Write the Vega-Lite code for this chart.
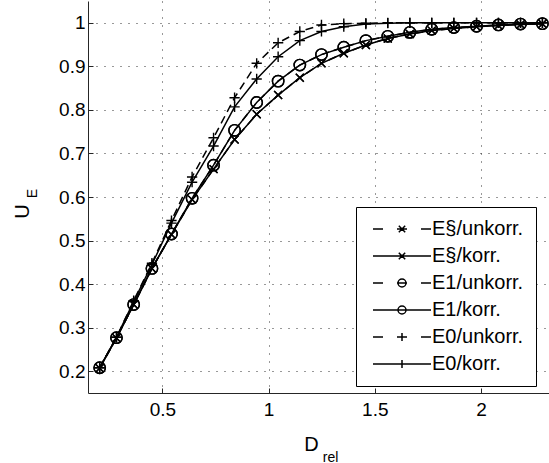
{
"$schema": "https://vega.github.io/schema/vega-lite/v6.json",
"width": 461, "height": 392,
"autosize": "none",
"padding": {"left": 88, "top": 1, "right": 0, "bottom": 70},
"background": "white",
"config": {"font": "Liberation Sans", "view": {"stroke": null},
  "axis": {"domainColor": "#262626", "tickColor": "#262626", "labelColor": "black", "titleColor": "black", "labelFont": "Liberation Sans", "titleFont": "Liberation Sans", "titleFontWeight": "normal", "labelFontSize": 19, "titleFontSize": 20}},
"datasets": {"d": [
{"s":"E§/unkorr.","k":"u","x":0.205,"y":0.207},{"s":"E§/unkorr.","k":"u","x":0.284,"y":0.276},{"s":"E§/unkorr.","k":"u","x":0.365,"y":0.353},{"s":"E§/unkorr.","k":"u","x":0.451,"y":0.436},{"s":"E§/unkorr.","k":"u","x":0.543,"y":0.514},{"s":"E§/unkorr.","k":"u","x":0.640,"y":0.594},{"s":"E§/unkorr.","k":"u","x":0.741,"y":0.664},{"s":"E§/unkorr.","k":"u","x":0.840,"y":0.732},{"s":"E§/unkorr.","k":"u","x":0.944,"y":0.790},{"s":"E§/unkorr.","k":"u","x":1.045,"y":0.834},{"s":"E§/unkorr.","k":"u","x":1.147,"y":0.874},{"s":"E§/unkorr.","k":"u","x":1.249,"y":0.907},{"s":"E§/unkorr.","k":"u","x":1.354,"y":0.930},{"s":"E§/unkorr.","k":"u","x":1.458,"y":0.949},{"s":"E§/unkorr.","k":"u","x":1.561,"y":0.964},{"s":"E§/unkorr.","k":"u","x":1.665,"y":0.974},{"s":"E§/unkorr.","k":"u","x":1.768,"y":0.982},{"s":"E§/unkorr.","k":"u","x":1.872,"y":0.987},{"s":"E§/unkorr.","k":"u","x":1.979,"y":0.991},{"s":"E§/unkorr.","k":"u","x":2.082,"y":0.994},{"s":"E§/unkorr.","k":"u","x":2.186,"y":0.996},{"s":"E§/unkorr.","k":"u","x":2.289,"y":0.998},
{"s":"E§/korr.","k":"k","x":0.205,"y":0.207},{"s":"E§/korr.","k":"k","x":0.284,"y":0.276},{"s":"E§/korr.","k":"k","x":0.365,"y":0.353},{"s":"E§/korr.","k":"k","x":0.451,"y":0.436},{"s":"E§/korr.","k":"k","x":0.543,"y":0.514},{"s":"E§/korr.","k":"k","x":0.640,"y":0.594},{"s":"E§/korr.","k":"k","x":0.741,"y":0.664},{"s":"E§/korr.","k":"k","x":0.840,"y":0.732},{"s":"E§/korr.","k":"k","x":0.944,"y":0.790},{"s":"E§/korr.","k":"k","x":1.045,"y":0.834},{"s":"E§/korr.","k":"k","x":1.147,"y":0.874},{"s":"E§/korr.","k":"k","x":1.249,"y":0.907},{"s":"E§/korr.","k":"k","x":1.354,"y":0.930},{"s":"E§/korr.","k":"k","x":1.458,"y":0.949},{"s":"E§/korr.","k":"k","x":1.561,"y":0.964},{"s":"E§/korr.","k":"k","x":1.665,"y":0.974},{"s":"E§/korr.","k":"k","x":1.768,"y":0.982},{"s":"E§/korr.","k":"k","x":1.872,"y":0.987},{"s":"E§/korr.","k":"k","x":1.979,"y":0.991},{"s":"E§/korr.","k":"k","x":2.082,"y":0.994},{"s":"E§/korr.","k":"k","x":2.186,"y":0.996},{"s":"E§/korr.","k":"k","x":2.289,"y":0.998},
{"s":"E1/unkorr.","k":"u","x":0.205,"y":0.208},{"s":"E1/unkorr.","k":"u","x":0.284,"y":0.277},{"s":"E1/unkorr.","k":"u","x":0.365,"y":0.353},{"s":"E1/unkorr.","k":"u","x":0.451,"y":0.436},{"s":"E1/unkorr.","k":"u","x":0.543,"y":0.515},{"s":"E1/unkorr.","k":"u","x":0.640,"y":0.597},{"s":"E1/unkorr.","k":"u","x":0.741,"y":0.673},{"s":"E1/unkorr.","k":"u","x":0.840,"y":0.753},{"s":"E1/unkorr.","k":"u","x":0.944,"y":0.817},{"s":"E1/unkorr.","k":"u","x":1.045,"y":0.866},{"s":"E1/unkorr.","k":"u","x":1.147,"y":0.903},{"s":"E1/unkorr.","k":"u","x":1.249,"y":0.927},{"s":"E1/unkorr.","k":"u","x":1.354,"y":0.944},{"s":"E1/unkorr.","k":"u","x":1.458,"y":0.959},{"s":"E1/unkorr.","k":"u","x":1.561,"y":0.969},{"s":"E1/unkorr.","k":"u","x":1.665,"y":0.978},{"s":"E1/unkorr.","k":"u","x":1.768,"y":0.985},{"s":"E1/unkorr.","k":"u","x":1.872,"y":0.989},{"s":"E1/unkorr.","k":"u","x":1.979,"y":0.992},{"s":"E1/unkorr.","k":"u","x":2.082,"y":0.995},{"s":"E1/unkorr.","k":"u","x":2.186,"y":0.997},{"s":"E1/unkorr.","k":"u","x":2.289,"y":0.998},
{"s":"E1/korr.","k":"k","x":0.205,"y":0.208},{"s":"E1/korr.","k":"k","x":0.284,"y":0.277},{"s":"E1/korr.","k":"k","x":0.365,"y":0.353},{"s":"E1/korr.","k":"k","x":0.451,"y":0.436},{"s":"E1/korr.","k":"k","x":0.543,"y":0.515},{"s":"E1/korr.","k":"k","x":0.640,"y":0.597},{"s":"E1/korr.","k":"k","x":0.741,"y":0.673},{"s":"E1/korr.","k":"k","x":0.840,"y":0.753},{"s":"E1/korr.","k":"k","x":0.944,"y":0.817},{"s":"E1/korr.","k":"k","x":1.045,"y":0.866},{"s":"E1/korr.","k":"k","x":1.147,"y":0.903},{"s":"E1/korr.","k":"k","x":1.249,"y":0.927},{"s":"E1/korr.","k":"k","x":1.354,"y":0.944},{"s":"E1/korr.","k":"k","x":1.458,"y":0.959},{"s":"E1/korr.","k":"k","x":1.561,"y":0.969},{"s":"E1/korr.","k":"k","x":1.665,"y":0.978},{"s":"E1/korr.","k":"k","x":1.768,"y":0.985},{"s":"E1/korr.","k":"k","x":1.872,"y":0.989},{"s":"E1/korr.","k":"k","x":1.979,"y":0.992},{"s":"E1/korr.","k":"k","x":2.082,"y":0.995},{"s":"E1/korr.","k":"k","x":2.186,"y":0.997},{"s":"E1/korr.","k":"k","x":2.289,"y":0.998},
{"s":"E0/unkorr.","k":"u","x":0.205,"y":0.208},{"s":"E0/unkorr.","k":"u","x":0.284,"y":0.278},{"s":"E0/unkorr.","k":"u","x":0.365,"y":0.362},{"s":"E0/unkorr.","k":"u","x":0.451,"y":0.448},{"s":"E0/unkorr.","k":"u","x":0.543,"y":0.546},{"s":"E0/unkorr.","k":"u","x":0.640,"y":0.646},{"s":"E0/unkorr.","k":"u","x":0.741,"y":0.736},{"s":"E0/unkorr.","k":"u","x":0.840,"y":0.828},{"s":"E0/unkorr.","k":"u","x":0.944,"y":0.907},{"s":"E0/unkorr.","k":"u","x":1.045,"y":0.954},{"s":"E0/unkorr.","k":"u","x":1.147,"y":0.980},{"s":"E0/unkorr.","k":"u","x":1.249,"y":0.995},{"s":"E0/unkorr.","k":"u","x":1.354,"y":0.998},{"s":"E0/unkorr.","k":"u","x":1.458,"y":0.999},{"s":"E0/unkorr.","k":"u","x":1.561,"y":1.0},{"s":"E0/unkorr.","k":"u","x":1.665,"y":1.0},{"s":"E0/unkorr.","k":"u","x":1.768,"y":1.0},{"s":"E0/unkorr.","k":"u","x":1.872,"y":1.0},{"s":"E0/unkorr.","k":"u","x":1.979,"y":1.0},{"s":"E0/unkorr.","k":"u","x":2.082,"y":1.0},{"s":"E0/unkorr.","k":"u","x":2.186,"y":1.0},{"s":"E0/unkorr.","k":"u","x":2.289,"y":1.0},
{"s":"E0/korr.","k":"k","x":0.205,"y":0.208},{"s":"E0/korr.","k":"k","x":0.284,"y":0.278},{"s":"E0/korr.","k":"k","x":0.365,"y":0.360},{"s":"E0/korr.","k":"k","x":0.451,"y":0.445},{"s":"E0/korr.","k":"k","x":0.543,"y":0.540},{"s":"E0/korr.","k":"k","x":0.640,"y":0.634},{"s":"E0/korr.","k":"k","x":0.741,"y":0.717},{"s":"E0/korr.","k":"k","x":0.840,"y":0.807},{"s":"E0/korr.","k":"k","x":0.944,"y":0.871},{"s":"E0/korr.","k":"k","x":1.045,"y":0.922},{"s":"E0/korr.","k":"k","x":1.147,"y":0.959},{"s":"E0/korr.","k":"k","x":1.249,"y":0.980},{"s":"E0/korr.","k":"k","x":1.354,"y":0.991},{"s":"E0/korr.","k":"k","x":1.458,"y":0.997},{"s":"E0/korr.","k":"k","x":1.561,"y":0.999},{"s":"E0/korr.","k":"k","x":1.665,"y":1.0},{"s":"E0/korr.","k":"k","x":1.768,"y":1.0},{"s":"E0/korr.","k":"k","x":1.872,"y":1.0},{"s":"E0/korr.","k":"k","x":1.979,"y":1.0},{"s":"E0/korr.","k":"k","x":2.082,"y":1.0},{"s":"E0/korr.","k":"k","x":2.186,"y":1.0},{"s":"E0/korr.","k":"k","x":2.289,"y":1.0}
]},
"data": {"name": "d"},
"layer": [
 {"layer": [
  {"transform": [{"filter": "datum.k === 'u'"}],
   "mark": {"type": "line", "color": "black", "strokeWidth": 1.5, "strokeDash": [8, 5]},
   "encoding": {
    "x": {"field": "x", "type": "quantitative", "scale": {"domain": [0.15, 2.32], "nice": false, "zero": false},
      "axis": {"values": [0.5, 1, 1.5, 2], "format": "~g", "grid": true, "gridDash": [1, 7], "gridColor": "#333", "tickSize": -5, "labelPadding": 12, "labelFlush": false, "title": "D", "titleX": 223, "titleY": 57, "titleBaseline": "alphabetic", "titleAlign": "center"}},
    "y": {"field": "y", "type": "quantitative", "scale": {"domain": [0.15, 1.05], "nice": false, "zero": false},
      "axis": {"values": [0.2, 0.3, 0.4, 0.5, 0.6, 0.7, 0.8, 0.9, 1], "format": "~g", "grid": true, "gridDash": [1, 7], "gridColor": "#333", "tickSize": -5, "labelPadding": 8, "labelFlush": false, "title": "U", "titleX": -60, "titleY": 210, "titleAngle": -90, "titleBaseline": "alphabetic", "titleAlign": "center"}},
    "detail": {"field": "s"}
   }},
  {"transform": [{"filter": "datum.k === 'k'"}],
   "mark": {"type": "line", "color": "black", "strokeWidth": 1.5},
   "encoding": {
    "x": {"field": "x", "type": "quantitative"},
    "y": {"field": "y", "type": "quantitative"},
    "detail": {"field": "s"}
   }},
  {"mark": {"type": "point", "filled": false, "color": "black", "strokeWidth": 1.4, "size": 130, "opacity": 1},
   "encoding": {
    "x": {"field": "x", "type": "quantitative"},
    "y": {"field": "y", "type": "quantitative"},
    "shape": {"field": "s", "type": "nominal", "legend": null,
      "scale": {"domain": ["E§/unkorr.", "E§/korr.", "E1/unkorr.", "E1/korr.", "E0/unkorr.", "E0/korr."], "range": ["M-0.7,-0.7L0.7,0.7M-0.7,0.7L0.7,-0.7", "M-0.7,-0.7L0.7,0.7M-0.7,0.7L0.7,-0.7", "circle", "circle", "M-0.9,0H0.9M0,-0.9V0.9", "M-0.9,0H0.9M0,-0.9V0.9"]}}
   }},
  {"transform": [{"filter": "false"}],
   "mark": {"type": "point", "filled": false, "color": "black", "strokeWidth": 1.5, "opacity": 1},
   "encoding": {
    "x": {"field": "x", "type": "quantitative"},
    "y": {"field": "y", "type": "quantitative"},
    "shape": {"field": "s", "type": "nominal",
      "scale": {"domain": ["E§/unkorr.", "E§/korr.", "E1/unkorr.", "E1/korr.", "E0/unkorr.", "E0/korr."], "range": [
        "M-7.25,0H-4.75M-1.25,0H1.25M4.75,0H7.25M-0.8,-0.8L0.8,0.8M-0.8,0.8L0.8,-0.8",
        "M-7.25,0H7.25M-0.8,-0.8L0.8,0.8M-0.8,0.8L0.8,-0.8",
        "M-7.25,0H-4.75M-1.25,0H1.25M4.75,0H7.25M1,0A1,1,0,1,1,-1,0A1,1,0,1,1,1,0",
        "M-7.25,0H7.25M1,0A1,1,0,1,1,-1,0A1,1,0,1,1,1,0",
        "M-7.25,0H-4.75M-1.25,0H1.25M4.75,0H7.25M0,-1V1",
        "M-7.25,0H7.25M0,-1V1"]},
      "legend": {"orient": "none", "legendX": 268, "legendY": 206, "title": null, "strokeColor": "black", "fillColor": "white", "padding": 12, "rowPadding": 7,
        "labelFontSize": 20, "labelColor": "black", "labelFont": "Liberation Sans", "symbolSize": 64, "symbolOffset": 24, "labelOffset": 20, "symbolStrokeWidth": 1.5, "symbolStrokeColor": "black", "symbolFillColor": "transparent"}}
   }}
 ], "resolve": {"scale": {"shape": "independent"}}},
 {"mark": {"type": "point", "opacity": 0},
  "encoding": {
   "x": {"field": "x", "type": "quantitative", "scale": {"domain": [0.15, 2.32], "nice": false, "zero": false},
     "axis": {"orient": "bottom", "labels": false, "ticks": false, "domain": false, "grid": false, "title": "rel", "titleFontSize": 14, "titleX": 242, "titleY": 68, "titleBaseline": "alphabetic", "titleAlign": "center"}},
   "y": {"field": "y", "type": "quantitative", "scale": {"domain": [0.15, 1.05], "nice": false, "zero": false},
     "axis": {"orient": "left", "labels": false, "ticks": false, "domain": false, "grid": false, "title": "E", "titleFontSize": 14, "titleX": -52, "titleY": 192, "titleAngle": -90, "titleBaseline": "alphabetic", "titleAlign": "center"}}
  }}
],
"resolve": {"scale": {"x": "independent", "y": "independent"}, "axis": {"x": "independent", "y": "independent"}}
}
